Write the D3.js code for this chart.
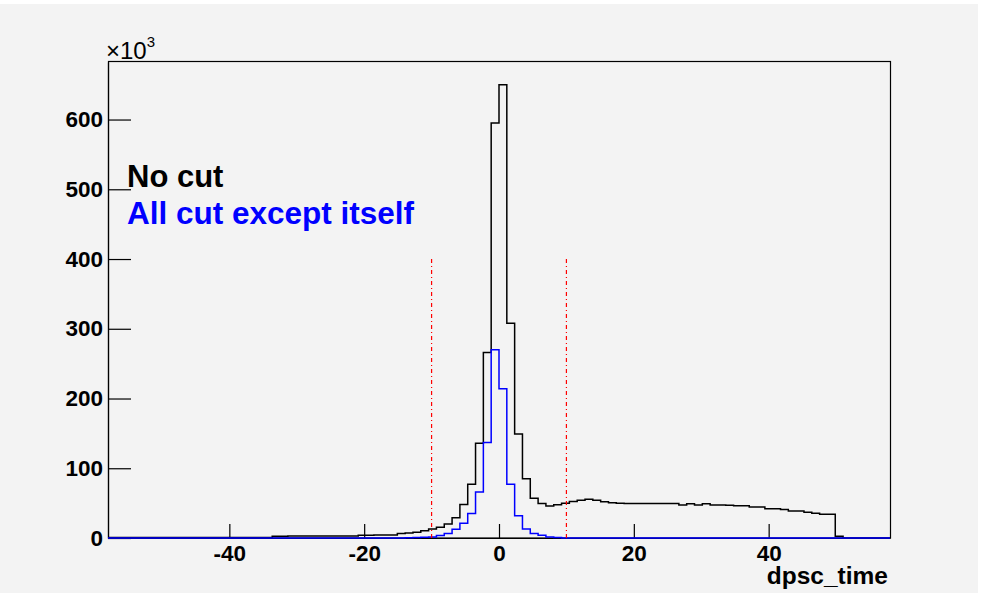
<!DOCTYPE html>
<html>
<head>
<meta charset="utf-8">
<script src="https://cdnjs.cloudflare.com/ajax/libs/d3/7.8.5/d3.min.js"></script>
<style>
  body { margin: 0; background: #fff; }
  text { font-family: "Liberation Sans", Arial, Helvetica, sans-serif; }
</style>
</head>
<body>
<script>
// dpsc_time histograms, 100 bins from -58 to 58, counts in thousands

var binLow = -58, binWidth = 1.16;

// "No cut"
var noCut = [
  0.8, 0.8, 0.8, 0.8, 0.8, 0.8, 0.8, 0.8, 0.8, 0.8,
  0.8, 0.8, 0.8, 0.8, 0.8, 0.8, 0.8, 0.8, 0.8, 0.8,
  0.8, 2.6, 2.6, 2.7, 2.7, 2.7, 2.7, 2.8, 2.8, 2.8,
  2.8, 2.9, 4.0, 4.1, 4.2, 4.3, 4.4, 6.3, 7.0, 8.4,
  10.3, 13.0, 15.3, 20.0, 29.0, 48.0, 77.0, 136.0, 266.0, 595.0,
  650.0, 308.0, 149.0, 85.0, 57.0, 49.5, 46.0, 47.5, 50.0, 52.5,
  54.0, 55.5, 54.0, 52.0, 50.5, 50.0, 49.3, 49.3, 49.3, 49.3,
  49.3, 49.3, 49.3, 47.3, 49.0, 47.3, 49.0, 47.3, 47.3, 47.0,
  46.4, 46.4, 44.5, 44.5, 42.1, 42.1, 40.7, 38.7, 38.7, 36.8,
  35.4, 34.0, 34.0, 2.4, 0, 0, 0, 0, 0, 0
];

// "All cut except itself"
var allCut = [
  0, 0, 0, 0, 0, 0, 0, 0, 0, 0,
  0, 0, 0, 0, 0, 0, 0, 0, 0, 0,
  0, 0, 0, 0, 0, 0, 0, 0, 0, 0,
  0, 0, 0, 0, 0, 0, 0, 0, 0.5, 0.8,
  1.0, 1.5, 3.5, 6.5, 12.5, 21.0, 35.0, 66.0, 137.0, 270.0,
  214.0, 77.0, 32.0, 13.0, 6.3, 3.9, 1.5, 0.8, 0, 0,
  0, 0, 0, 0, 0, 0, 0, 0, 0, 0,
  0, 0, 0, 0, 0, 0, 0, 0, 0, 0,
  0, 0, 0, 0, 0, 0, 0, 0, 0, 0,
  0, 0, 0, 0, 0, 0, 0, 0, 0, 0
];

var cutLines = [-10, 10];
var cutHeight = 400;

var xMajor = [-40, -20, 0, 20, 40];
var xMinor = [-55, -50, -45, -35, -30, -25, -15, -10, -5, 5, 10, 15, 25, 30, 35, 45, 50, 55];
var yMajor = [0, 100, 200, 300, 400, 500, 600];
var yMinor = d3.range(0, 681, 20).filter(function(v) { return v % 100 != 0; });

var width = 982,
    height = 593;

var x = d3.scaleLinear()
    .domain([-58, 58])
    .range([108, 890]);

var y = d3.scaleLinear()
    .domain([0, 682.5])
    .range([538, 62]);

var svg = d3.select("body").append("svg")
    .attr("width", width)
    .attr("height", height);

// canvas background
svg.append("rect")
    .attr("x", 0).attr("y", 4)
    .attr("width", 978).attr("height", height - 4)
    .attr("fill", "#f3f3f3");

// frame
svg.append("rect")
    .attr("x", 108.5).attr("y", 61.5)
    .attr("width", 890 - 108).attr("height", 538 - 61.5)
    .attr("fill", "none")
    .attr("stroke", "#000")
    .attr("stroke-width", 1.2);

// axes (ROOT style: ticks inside, plain hyphen minus)
var fmt = function(d) { return String(d); };

var gx = svg.append("g").attr("transform", "translate(0," + y(0) + ")");
gx.call(d3.axisBottom(x).tickValues(xMinor).tickSize(-7).tickSizeOuter(0).tickFormat(""));
gx.call(d3.axisBottom(x).tickValues(xMajor).tickSize(-14).tickSizeOuter(0).tickPadding(7).tickFormat(fmt));

var gy = svg.append("g").attr("transform", "translate(" + x(-58) + ",0)");
gy.call(d3.axisLeft(y).tickValues(yMinor).tickSize(-12).tickSizeOuter(0).tickFormat(""));
gy.call(d3.axisLeft(y).tickValues(yMajor).tickSize(-23).tickSizeOuter(0).tickPadding(5).tickFormat(fmt));

svg.selectAll(".tick line").attr("stroke", "#000").attr("stroke-width", 1.2);
svg.selectAll(".domain").attr("stroke", "#000").attr("stroke-width", 1.2);
svg.selectAll(".tick text")
    .attr("fill", "#000")
    .style("font-size", "22.5px")
    .style("font-weight", "bold")
    .style("font-family", "'Liberation Sans', Arial, sans-serif");

function steps(values) {
  var pts = values.map(function(v, i) { return [binLow + i * binWidth, v]; });
  pts.push([binLow + values.length * binWidth, values[values.length - 1]]);
  return d3.line()
      .x(function(d) { return x(d[0]); })
      .y(function(d) { return y(d[1]); })
      .curve(d3.curveStepAfter)(pts);
}

svg.append("path")
    .attr("d", steps(noCut))
    .attr("fill", "none")
    .attr("stroke", "#000")
    .attr("stroke-width", 1.5);

svg.append("path")
    .attr("d", steps(allCut))
    .attr("fill", "none")
    .attr("stroke", "#0000ff")
    .attr("stroke-width", 1.5);

svg.selectAll(".cut")
    .data(cutLines)
  .enter().append("line")
    .attr("class", "cut")
    .attr("x1", function(d) { return x(d); })
    .attr("x2", function(d) { return x(d); })
    .attr("y1", y(0))
    .attr("y2", y(cutHeight))
    .attr("stroke", "#ff0000")
    .attr("stroke-width", 1.2)
    .attr("stroke-dasharray", "4,3,1,3");

// exponent label
var ex = svg.append("text")
    .attr("x", 106)
    .attr("y", 59)
    .style("font-size", "24px")
    .text("\u00d710");
ex.append("tspan")
    .attr("dy", -12)
    .style("font-size", "15px")
    .text("3");

// axis title
svg.append("text")
    .attr("x", 888)
    .attr("y", 584)
    .attr("text-anchor", "end")
    .style("font-size", "24.5px")
    .style("font-weight", "bold")
    .text("dpsc_time");

// legend
svg.append("text")
    .attr("x", 127)
    .attr("y", 187)
    .style("font-size", "31px")
    .style("font-weight", "bold")
    .attr("fill", "#000")
    .text("No cut");

svg.append("text")
    .attr("x", 127)
    .attr("y", 224)
    .style("font-size", "31.5px")
    .style("font-weight", "bold")
    .attr("fill", "#0000ff")
    .text("All cut except itself");
</script>
</body>
</html>
